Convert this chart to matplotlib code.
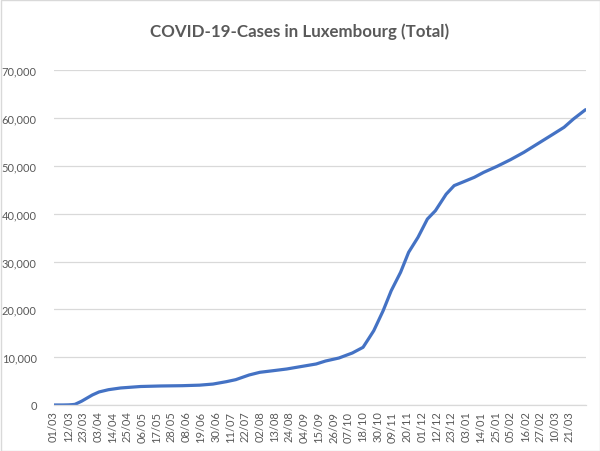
import matplotlib
matplotlib.use("Agg")
import matplotlib.pyplot as plt
from matplotlib.patches import Rectangle
from matplotlib.ticker import FuncFormatter
import pandas as pd
import numpy as np

title = "COVID-19-Cases in Luxembourg (Total)"

dates = [
    "2020-03-01", "2020-03-08", "2020-03-12", "2020-03-15", "2020-03-17",
    "2020-03-19", "2020-03-22", "2020-03-26", "2020-03-30", "2020-04-04",
    "2020-04-11", "2020-04-20", "2020-05-05", "2020-05-20", "2020-06-05",
    "2020-06-18", "2020-06-28", "2020-07-08", "2020-07-15", "2020-07-25",
    "2020-08-02", "2020-08-12", "2020-08-22", "2020-09-01", "2020-09-13",
    "2020-09-20", "2020-09-30", "2020-10-10", "2020-10-18", "2020-10-22",
    "2020-10-26", "2020-11-02", "2020-11-08", "2020-11-15", "2020-11-21",
    "2020-11-28", "2020-12-05", "2020-12-11", "2020-12-19", "2020-12-25",
    "2021-01-01", "2021-01-09", "2021-01-16", "2021-01-26", "2021-02-05",
    "2021-02-15", "2021-02-25", "2021-03-07", "2021-03-17", "2021-03-24",
    "2021-04-02",
]
cases = [
    1, 3, 26, 77, 140,
    400, 800, 1450, 2100, 2730,
    3200, 3560, 3870, 3980, 4040,
    4150, 4380, 4880, 5300, 6280,
    6840, 7180, 7530, 8010, 8580,
    9200, 9830, 10880, 12070, 13800,
    15550, 19730, 23900, 27760, 31940,
    35080, 38900, 40650, 44100, 45900,
    46700, 47630, 48670, 49930, 51320,
    52860, 54600, 56340, 58100, 59830,
    61780,
]

tick_labels = [
    "01/03", "12/03", "23/03", "03/04", "14/04", "25/04", "06/05", "17/05",
    "28/05", "08/06", "19/06", "30/06", "11/07", "22/07", "02/08", "13/08",
    "24/08", "04/09", "15/09", "26/09", "07/10", "18/10", "30/10", "09/11",
    "20/11", "01/12", "12/12", "23/12", "03/01", "14/01", "25/01", "05/02",
    "16/02", "27/02", "10/03", "21/03",
]

grey_text = "#595959"
grid_col = "#D9D9D9"
line_col = "#4472C4"
font = "Lato"

fig = plt.figure(figsize=(6.0, 4.52), dpi=100)
ax = fig.add_axes([53.5 / 600, 1 - 406 / 452, (585.5 - 53.5) / 600, (406 - 71.4) / 452])

x = pd.to_datetime(dates)
ax.plot(x, cases, color=line_col, linewidth=2.3, solid_capstyle="round", solid_joinstyle="round")

start = pd.Timestamp("2020-03-01")
end = pd.Timestamp("2021-04-02")
ax.set_xlim(start, end)
ax.set_ylim(0, 70000)

tick_pos = pd.date_range(start, periods=len(tick_labels), freq="11D")
ax.set_xticks(tick_pos)
ax.set_xticklabels(tick_labels, rotation=90, fontsize=8, color=grey_text, family=font)
ax.set_yticks(np.arange(0, 70001, 10000))
ax.yaxis.set_major_formatter(FuncFormatter(lambda v, p: f"{int(v):,}"))
for lab in ax.get_yticklabels():
    lab.set_family(font)
    lab.set_fontsize(8)
    lab.set_color(grey_text)

ax.tick_params(axis="both", length=0)
ax.tick_params(axis="y", pad=12)
ax.tick_params(axis="x", pad=4)
ax.grid(axis="y", color=grid_col, linewidth=0.9)
ax.set_axisbelow(True)
for s in ["top", "right", "left"]:
    ax.spines[s].set_visible(False)
ax.spines["bottom"].set_color(grid_col)
ax.spines["bottom"].set_linewidth(0.9)

fig.text(0.5, 1 - 32 / 452, title, ha="center", va="center", fontsize=12.2,
         fontweight="bold", color=grey_text, family=font)

fig.patches.append(Rectangle((0.5 / 600, 0.5 / 452), 599 / 600, 451 / 452,
                             transform=fig.transFigure, fill=False,
                             edgecolor=grid_col, linewidth=1))

fig.savefig("out.png", dpi=100)
